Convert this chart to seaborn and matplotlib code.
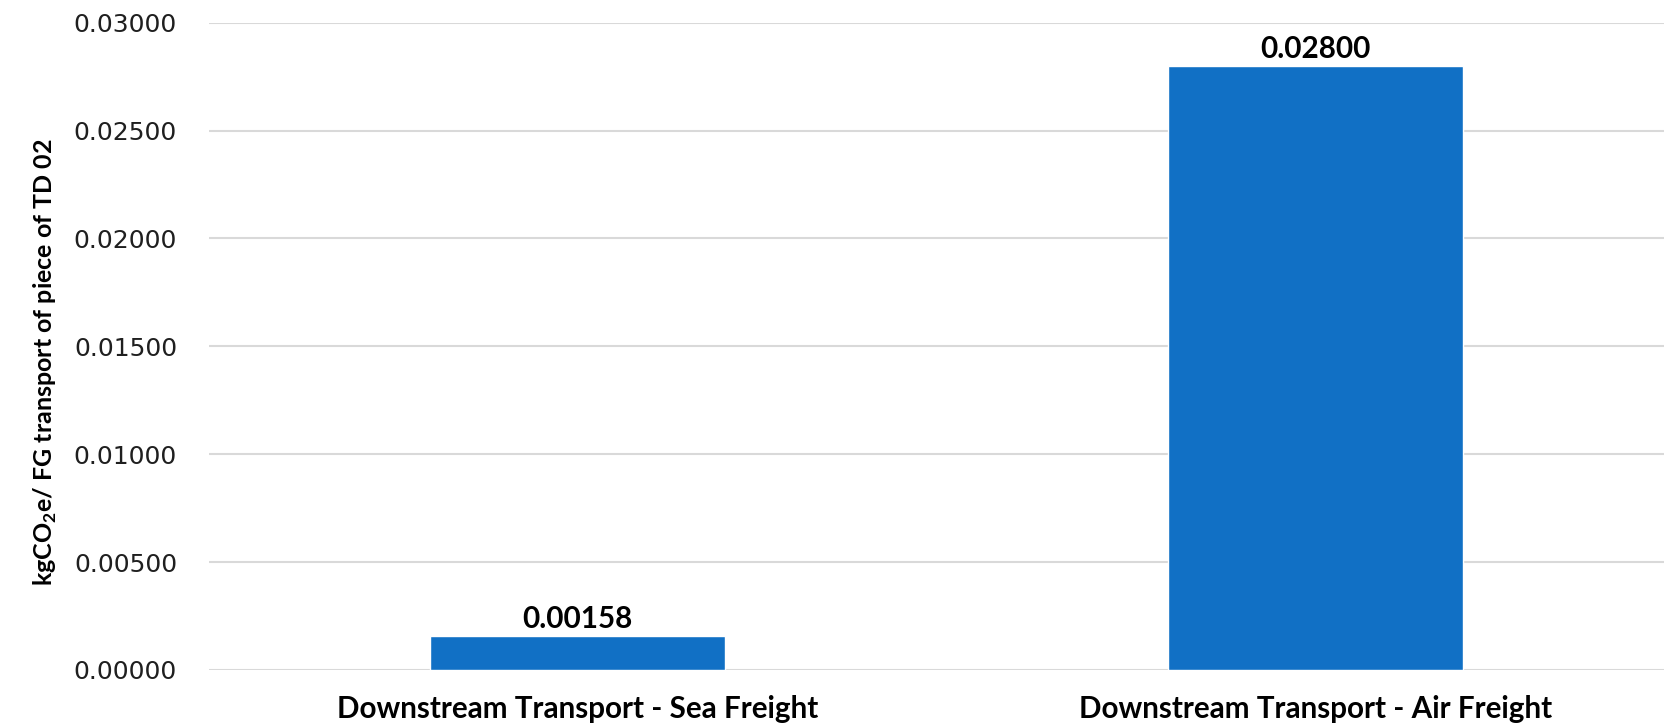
import matplotlib
matplotlib.use("Agg")
import matplotlib.pyplot as plt
import seaborn as sns
import pandas as pd

categories = ["Downstream Transport - Sea Freight", "Downstream Transport - Air Freight"]
values = [0.00158, 0.02800]
yticks = [0.0, 0.005, 0.010, 0.015, 0.020, 0.025, 0.030]

sns.set_theme(style="white")
plt.rcParams["font.family"] = ["DejaVu Sans"]
plt.rcParams["mathtext.fontset"] = "custom"
plt.rcParams["mathtext.bf"] = "Lato:bold"
plt.rcParams["mathtext.rm"] = "Lato:bold"

df = pd.DataFrame({"category": categories, "value": values})

fig = plt.figure(figsize=(16.65, 7.28), dpi=100)
ax = fig.add_axes([0.1255, 0.0797, 0.8745, 0.8891])

sns.barplot(data=df, x="category", y="value", color="#1170C5", saturation=1,
            width=0.40, ax=ax, zorder=3)

ax.set_ylim(0, 0.030)
ax.set_xlim(-0.500, 1.474)
ax.set_yticks(yticks)
ax.set_yticklabels([f"{t:.5f}" for t in yticks], fontsize=18, color="#1f1f1f",
                   family="DejaVu Sans")
ax.yaxis.grid(True, color="#D9D9D9", linewidth=1.5, zorder=0)
ax.xaxis.grid(False)
for s in ax.spines.values():
    s.set_visible(False)
ax.tick_params(axis="both", length=0)
ax.tick_params(axis="y", pad=23)
ax.tick_params(axis="x", pad=18)
ax.set_xticks(range(len(categories)))
ax.set_xticklabels(categories, fontsize=21.3, fontweight="bold", family="Lato",
                   color="#000000")
ax.set_xlabel("")
ax.set_ylabel(r"kgCO$_{2}$e/ FG transport of piece of TD 02", fontsize=18,
              fontweight="bold", family="Lato", color="#000000", va="center")
ax.yaxis.set_label_coords(-0.1125, 0.476)

for i, v in enumerate(values):
    ax.annotate(f"{v:.5f}", xy=(i, v), xytext=(0, 6), textcoords="offset points",
                ha="center", va="baseline", fontsize=21.3, fontweight="bold",
                family="Lato", color="#000000")

fig.savefig("out.png", dpi=100)
